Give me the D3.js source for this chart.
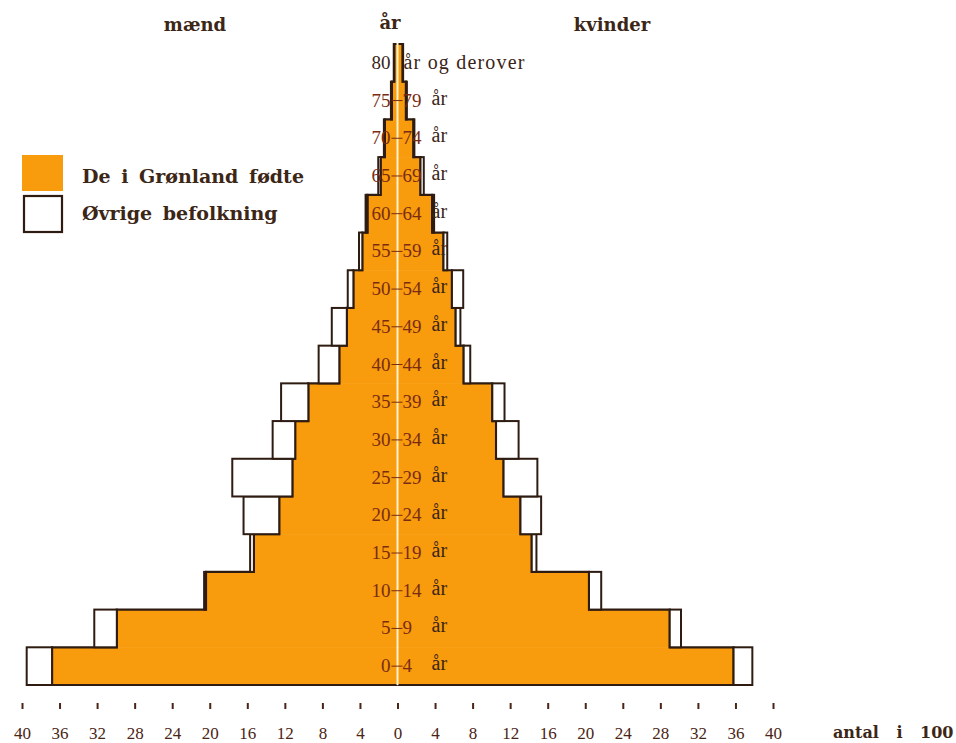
<!DOCTYPE html>
<html>
<head>
<meta charset="utf-8">
<script src="https://cdn.jsdelivr.net/npm/d3@7"></script>
<style>
  html, body { margin: 0; padding: 0; background: #ffffff; }
  svg { display: block; }
  text { font-family: "Liberation Serif", "DejaVu Serif", serif; }
  text.bold { font-family: "DejaVu Serif", "Liberation Serif", serif; font-weight: bold; }
</style>
</head>
<body>
<svg id="chart" width="956" height="743"></svg>
<script>
// Age groups, youngest first (antal i 100)
const ageFrom = ["0", "5", "10", "15", "20", "25", "30", "35", "40", "45", "50", "55", "60", "65", "70", "75", "80"];
const ageTo   = ["4", "9", "14", "19", "24", "29", "34", "39", "44", "49", "54", "59", "64", "69", "74", "79", ""];

// Men: born in Greenland / other population
const menGreenland = [36.8, 29.9, 20.4, 15.3, 12.6, 11.2, 10.9, 9.5, 6.2, 5.4, 4.7, 3.75, 3.2, 1.8, 1.35, 0.6, 0.35];
const menOther     = [2.7, 2.4, 0.2, 0.4, 3.8, 6.4, 2.4, 2.9, 2.2, 1.6, 0.6, 0.35, 0.2, 0.25, 0.1, 0.1, 0.05];

// Women: born in Greenland / other population
const womenGreenland = [35.8, 29.0, 20.4, 14.3, 13.1, 11.3, 10.5, 10.1, 7.05, 6.2, 5.8, 4.9, 3.7, 2.45, 1.7, 0.9, 0.55];
const womenOther     = [2.0, 1.2, 1.3, 0.5, 2.2, 3.6, 2.4, 1.3, 0.7, 0.5, 1.2, 0.4, 0.2, 0.35, 0.1, 0.1, 0.05];

const tickValues = d3.range(-40, 41, 4);

const ORANGE = "#f89b0c";
const INK = "#2e1c12";
const LABEL = "#7a2c12";

const svg = d3.select("#chart");

const x = d3.scaleLinear().domain([-40, 40]).range([22, 773]);
const y = d3.scaleBand().domain(d3.range(ageFrom.length)).range([685, 44]).padding(0);
const x0 = x(0);

const rows = d3.range(ageFrom.length).map(i => ({
  i,
  mG: menGreenland[i], mO: menOther[i],
  wG: womenGreenland[i], wO: womenOther[i]
}));

const bars = svg.append("g");

// Greenland-born (orange) bars
bars.selectAll("rect.mg").data(rows).join("rect")
  .attr("x", d => x(-d.mG)).attr("y", d => y(d.i))
  .attr("width", d => x0 - x(-d.mG)).attr("height", y.bandwidth() + 0.5)
  .attr("fill", ORANGE);
bars.selectAll("rect.wg").data(rows).join("rect")
  .attr("x", x0).attr("y", d => y(d.i))
  .attr("width", d => x(d.wG) - x0).attr("height", y.bandwidth() + 0.5)
  .attr("fill", ORANGE);

// Step outline of the Greenland-born region
function outline(vals, sign) {
  const pts = [[x0, y(0) + y.bandwidth()]];
  vals.forEach((v, i) => {
    pts.push([x(sign * v), y(i) + y.bandwidth()]);
    pts.push([x(sign * v), y(i)]);
  });
  pts.push([x0, y(vals.length - 1)]);
  return d3.line()(pts);
}
bars.append("path").attr("d", outline(menGreenland, -1))
  .attr("fill", "none").attr("stroke", INK).attr("stroke-width", 2.2).attr("stroke-linejoin", "miter");
bars.append("path").attr("d", outline(womenGreenland, 1))
  .attr("fill", "none").attr("stroke", INK).attr("stroke-width", 2.2).attr("stroke-linejoin", "miter");

// Other population (white) bars
bars.selectAll("rect.mo").data(rows).join("rect")
  .attr("x", d => x(-(d.mG + d.mO))).attr("y", d => y(d.i))
  .attr("width", d => x(-d.mG) - x(-(d.mG + d.mO))).attr("height", y.bandwidth())
  .attr("fill", "#ffffff").attr("stroke", INK).attr("stroke-width", 2);
bars.selectAll("rect.wo").data(rows).join("rect")
  .attr("x", d => x(d.wG)).attr("y", d => y(d.i))
  .attr("width", d => x(d.wG + d.wO) - x(d.wG)).attr("height", y.bandwidth())
  .attr("fill", "#ffffff").attr("stroke", INK).attr("stroke-width", 2);

// Centre line
svg.append("line")
  .attr("x1", x0).attr("x2", x0)
  .attr("y1", y(ageFrom.length - 1) - 1).attr("y2", y(0) + y.bandwidth())
  .attr("stroke", "#fff2cf").attr("stroke-width", 2);

// Age labels
const labels = svg.append("g").attr("font-size", 19);
rows.forEach(d => {
  const cy = y(d.i) + y.bandwidth() / 2 + 6;
  const last = d.i === ageFrom.length - 1;
  labels.append("text")
    .attr("x", x0 - 7).attr("y", cy).attr("text-anchor", "end")
    .attr("fill", last ? "#3a2418" : LABEL).text(ageFrom[d.i]);
  if (last) {
    labels.append("text")
      .attr("x", x0 + 6).attr("y", cy).attr("fill", "#3a2418")
      .attr("font-size", 20).attr("letter-spacing", 1.2)
      .text("år og derover");
  } else {
    labels.append("line")
      .attr("x1", x0 - 6).attr("x2", x0 + 5)
      .attr("y1", cy - 6).attr("y2", cy - 6)
      .attr("stroke", LABEL).attr("stroke-width", 1);
    labels.append("text")
      .attr("x", x0 + 5).attr("y", cy).attr("fill", LABEL).text(ageTo[d.i]);
    labels.append("text")
      .attr("x", x0 + 34).attr("y", cy - 2).attr("fill", "#3a2418").attr("font-size", 20).text("år");
  }
});

// Headers
const head = svg.append("g").attr("fill", "#3c2616");
[["mænd", 195, 31], ["år", 390, 29], ["kvinder", 612, 31]].forEach(([t, hx, hy]) => {
  head.append("text").attr("class", "bold").attr("font-size", 18)
    .attr("x", hx).attr("y", hy).attr("text-anchor", "middle").text(t);
});

// Legend
const legend = svg.append("g");
legend.append("rect").attr("x", 22).attr("y", 155).attr("width", 41).attr("height", 36).attr("fill", ORANGE);
legend.append("rect").attr("x", 24).attr("y", 196).attr("width", 38).attr("height", 36)
  .attr("fill", "#ffffff").attr("stroke", INK).attr("stroke-width", 2.2);
legend.append("text").attr("class", "bold").attr("x", 82).attr("y", 183).attr("font-size", 19)
  .attr("fill", "#3c2616").attr("word-spacing", 4).text("De i Grønland fødte");
legend.append("text").attr("class", "bold").attr("x", 82).attr("y", 220).attr("font-size", 19)
  .attr("fill", "#3c2616").attr("word-spacing", 4).text("Øvrige befolkning");

// Horizontal axis
const axis = d3.axisBottom(x)
  .tickValues(tickValues)
  .tickFormat(d => Math.abs(d))
  .tickSize(6)
  .tickPadding(18);
const ax = svg.append("g").attr("transform", "translate(0,703)").call(axis);
ax.select(".domain").remove();
ax.selectAll(".tick line").attr("stroke", "#4a2414").attr("stroke-width", 2);
ax.selectAll(".tick text").attr("font-size", 17).attr("fill", "#4a2414")
  .attr("font-family", "\"Liberation Serif\", serif");

svg.append("text").attr("class", "bold").attr("x", 833).attr("y", 738).attr("font-size", 16)
  .attr("fill", "#3c2616").attr("word-spacing", 12).text("antal i 100");
</script>
</body>
</html>
